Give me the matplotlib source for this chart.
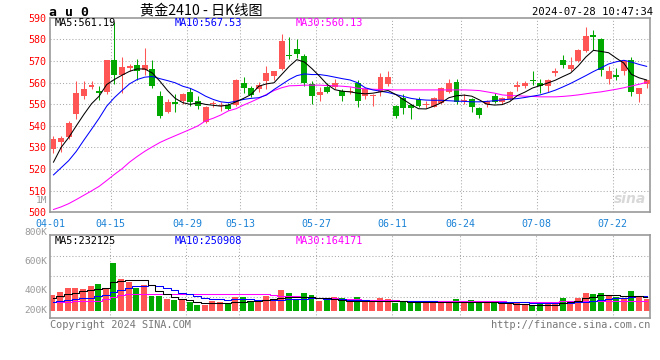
import matplotlib

matplotlib.use("Agg")

import matplotlib.pyplot as plt
import numpy as np

# daily candles, index 0 = 04-01 ... 78 = 07-26
opens = [529.5, 532.5, 534.7, 545.3, 553.7, 558.0, 556.3, 555.8, 570.5, 563.7,
         566.7, 568.3, 566.0, 566.4, 554.0, 546.4, 551.0, 551.7, 555.7, 551.7,
         541.8, 550.0, 549.0, 549.6, 549.6, 559.9, 557.3, 556.8, 560.9, 562.9,
         566.4, 572.8, 575.6, 572.4, 559.4, 554.2, 557.9, 558.0, 556.0, 555.6,
         559.9, 553.7, 553.8, 555.7, 559.5, 549.2, 553.0, 549.6, 552.2, 549.6,
         548.8, 550.7, 555.6, 560.3, 551.6, 552.2, 548.4, 549.9, 553.7, 551.1,
         552.2, 558.0, 558.3, 561.4, 559.9, 558.3, 564.4, 570.6, 566.4, 569.8,
         574.7, 582.0, 580.2, 561.8, 563.7, 565.2, 570.6, 554.8, 559.4]
closes = [534.0, 534.5, 541.4, 555.0, 556.8, 559.0, 555.0, 570.5, 563.7, 567.0,
          567.8, 565.2, 568.3, 558.3, 544.6, 551.1, 550.2, 554.5, 551.0, 549.1,
          548.6, 550.6, 549.6, 547.6, 561.4, 557.3, 554.2, 559.1, 564.4, 565.2,
          579.0, 572.1, 573.2, 559.9, 554.0, 555.7, 555.6, 559.9, 554.0, 556.3,
          551.4, 556.8, 554.3, 562.4, 562.4, 544.6, 548.1, 548.1, 549.2, 550.2,
          552.7, 557.3, 559.9, 551.1, 552.0, 548.7, 545.0, 551.7, 551.1, 552.7,
          555.7, 558.8, 559.7, 560.6, 558.3, 561.4, 565.5, 568.3, 568.3, 575.1,
          581.6, 581.3, 565.7, 565.5, 562.5, 569.8, 555.7, 557.3, 561.1]
highs = [535.5, 535.5, 542.0, 560.5, 560.5, 560.6, 558.6, 570.6, 588.0, 571.6,
         568.7, 570.9, 575.8, 570.6, 556.3, 552.2, 554.5, 555.3, 557.3, 553.7,
         549.0, 551.7, 551.0, 550.4, 561.8, 562.5, 558.3, 560.2, 567.5, 565.5,
         582.5, 580.9, 580.0, 573.2, 560.6, 558.0, 560.0, 561.8, 556.8, 557.9,
         561.0, 557.3, 554.5, 564.4, 565.5, 549.5, 554.5, 550.2, 553.4, 551.7,
         553.3, 557.9, 561.8, 561.8, 554.5, 552.7, 548.8, 552.1, 555.3, 553.3,
         556.3, 560.6, 560.6, 565.5, 561.8, 561.8, 566.7, 572.9, 571.6, 575.3,
         585.5, 584.3, 580.8, 567.5, 566.7, 570.3, 571.6, 557.5, 561.3]
lows = [527.5, 528.0, 534.0, 543.0, 552.5, 556.8, 552.0, 554.7, 559.5, 555.0,
        565.5, 561.0, 563.5, 557.5, 543.6, 545.8, 546.6, 550.0, 549.0, 548.0,
        541.5, 548.7, 547.0, 547.2, 549.0, 555.0, 553.3, 555.7, 557.0, 561.0,
        566.0, 570.9, 571.3, 558.6, 550.2, 551.7, 555.0, 556.8, 551.4, 554.5,
        548.7, 552.2, 549.2, 554.0, 558.3, 543.6, 545.3, 543.0, 548.8, 548.4,
        548.5, 550.0, 555.0, 549.9, 550.0, 546.4, 543.6, 548.7, 550.5, 549.9,
        551.8, 556.3, 557.3, 558.8, 555.3, 555.7, 562.9, 566.7, 565.5, 569.5,
        574.0, 575.1, 563.2, 559.5, 561.4, 563.7, 554.0, 551.0, 557.3]

ma5 = [523.2, 530.0, 534.6, 540.0, 545.3, 550.2, 553.7, 559.1, 561.4, 563.4,
       565.2, 566.3, 566.3, 564.4, 560.6, 556.3, 552.7, 550.7, 549.9, 550.7,
       549.9, 549.5, 549.1, 549.6, 551.1, 552.7, 554.5, 558.3, 559.4, 559.9,
       563.7, 567.5, 570.6, 569.5, 566.4, 562.9, 559.1, 556.7, 556.0, 555.7,
       555.1, 554.8, 555.1, 555.7, 556.3, 554.5, 552.2, 549.9, 547.9, 547.8,
       549.1, 550.7, 553.0, 553.9, 554.2, 553.7, 552.0, 550.0, 549.6, 549.8,
       551.2, 554.0, 555.6, 557.5, 558.6, 559.8, 561.1, 562.8, 564.4, 567.7,
       571.8, 574.9, 574.4, 573.8, 571.3, 569.0, 563.8, 562.2, 561.2]
ma10 = [517.3, 520.6, 523.9, 528.2, 533.4, 538.4, 543.5, 549.1, 553.0, 556.3,
        559.4, 561.4, 562.5, 562.8, 561.8, 560.9, 559.9, 558.3, 557.3, 555.7,
        553.7, 552.2, 551.1, 550.7, 551.4, 552.2, 552.7, 553.0, 554.2, 556.8,
        559.1, 561.4, 563.2, 564.0, 563.7, 563.7, 563.2, 562.5, 561.8, 561.2,
        559.9, 557.6, 556.6, 556.0, 555.4, 554.5, 553.6, 552.7, 552.2, 551.9,
        551.8, 551.8, 551.6, 551.4, 551.3, 551.1, 551.1, 551.3, 551.6, 552.0,
        552.3, 552.6, 553.1, 553.7, 554.3, 555.3, 556.5, 558.0, 559.6, 561.4,
        563.2, 565.1, 566.8, 568.6, 569.6, 570.3, 569.5, 568.4, 567.5]
ma30 = [501.3, 502.5, 504.0, 505.9, 507.9, 509.9, 512.0, 514.7, 517.5, 520.1,
        523.2, 525.8, 528.2, 530.3, 532.3, 533.9, 535.4, 536.9, 538.4, 540.0,
        542.3, 543.5, 545.0, 546.9, 547.9, 549.6, 551.1, 552.7, 554.5, 556.3,
        557.6, 558.5, 558.6, 558.8, 558.8, 558.8, 558.6, 558.5, 558.3, 558.0,
        557.4, 557.1, 556.9, 556.8, 556.7, 556.6, 556.6, 556.6, 556.6, 556.6,
        556.6, 556.6, 556.6, 556.6, 556.6, 556.5, 556.3, 555.7, 555.1, 554.3,
        554.0, 553.9, 553.7, 553.6, 553.4, 553.4, 553.4, 553.6, 553.9, 554.3,
        554.8, 555.3, 555.7, 556.3, 556.9, 557.6, 558.4, 559.2, 560.1]

# volume in thousands of lots
volume = [261, 310, 375, 375, 353, 407, 440, 353, 787, 521,
          472, 375, 429, 244, 244, 195, 179, 195, 147, 98,
          98, 157, 147, 125, 228, 228, 147, 157, 250, 157,
          342, 299, 190, 299, 261, 163, 190, 233, 206, 163,
          233, 168, 168, 212, 195, 136, 152, 157, 136, 152,
          125, 152, 152, 195, 141, 179, 136, 136, 136, 114,
          136, 152, 114, 98, 114, 114, 125, 212, 163, 212,
          300, 270, 300, 250, 225, 200, 330, 250, 200]
vma5 = [206, 240, 270, 299, 320, 340, 365, 380, 470, 490,
        500, 505, 505, 430, 330, 270, 230, 200, 175, 150,
        135, 130, 125, 128, 140, 150, 155, 160, 180, 195,
        210, 232, 235, 235, 228, 215, 215, 200, 180, 170,
        165, 160, 160, 160, 160, 155, 155, 150, 150, 150,
        150, 150, 150, 150, 150, 150, 150, 150, 145, 135,
        125, 115, 110, 105, 100, 100, 105, 125, 145, 170,
        205, 235, 255, 265, 260, 250, 245, 238, 232]
vma10 = [152, 168, 180, 195, 205, 220, 245, 260, 315, 350,
         380, 400, 415, 420, 410, 380, 345, 300, 270, 240,
         215, 200, 190, 185, 190, 190, 190, 180, 180, 180,
         185, 195, 195, 200, 205, 205, 200, 195, 190, 185,
         180, 175, 170, 168, 165, 162, 160, 158, 156, 155,
         155, 153, 152, 152, 150, 150, 150, 150, 148, 146,
         144, 142, 140, 138, 136, 134, 132, 132, 135, 140,
         150, 165, 180, 195, 205, 215, 230, 242, 251]
vma30 = [152, 152, 152, 168, 168, 168, 168, 200, 233, 255,
         271, 271, 271, 271, 271, 271, 271, 271, 271, 271,
         271, 271, 271, 271, 271, 271, 271, 271, 271, 260,
         250, 245, 240, 235, 228, 220, 215, 206, 200, 195,
         190, 185, 180, 178, 175, 172, 170, 168, 166, 165,
         165, 163, 162, 160, 160, 160, 160, 158, 156, 155,
         154, 153, 152, 152, 152, 153, 154, 155, 156, 158,
         160, 161, 162, 162, 163, 163, 164, 164, 164]

tick_days = [0, 8, 18, 25, 35, 45, 54, 64, 74]
tick_labels = ["04-01", "04-15", "04-29", "05-13", "05-27", "06-11", "06-24", "07-08", "07-22"]

RED = "#FF5555"
GREEN = "#00A800"
FRAME = "#999999"
GRID = "#AAAAAA"
MONO = "DejaVu Sans Mono"
LW = 0.75

W, H = 660, 360


def fx(x):
    return x / W


def fy(y):
    return 1 - y / H


fig = plt.figure(figsize=(6.6, 3.6), dpi=100)
fig.patch.set_facecolor("white")

ax = fig.add_axes([fx(50), fy(212.3), 600 / W, (212.3 - 17.7) / H])
vax = fig.add_axes([fx(50), fy(318), 600 / W, (318 - 234.7) / H])

x = np.arange(len(opens))
xmin, xmax = (50 - 52.5) / 7.617, (650 - 52.5) / 7.617
grid_x = [d - 0.46 for d in tick_days]

o = np.array(opens)
c = np.array(closes)
up = c >= o
colors = [RED if u else GREEN for u in up]
body_low = np.minimum(o, c)
body_h = np.maximum(np.abs(c - o), 0.45)

for a in (ax, vax):
    a.set_xlim(xmin, xmax)
    for s in a.spines.values():
        s.set_color(FRAME)
        s.set_linewidth(1.2)
    a.tick_params(length=0)
    for gx in grid_x[1:]:
        a.axvline(gx, color=GRID, lw=LW, ls=(0, (1, 2)), zorder=0)

# price panel
ax.set_ylim(500, 590)
levels = list(range(500, 591, 10))
for lv in levels[1:-1]:
    ax.axhline(lv, color=GRID, lw=LW, ls=(0, (1, 2)), zorder=0)
ax.vlines(x, lows, highs, colors=colors, lw=LW, zorder=2)
ax.bar(x, body_h, bottom=body_low, width=0.78, color=colors, lw=0, zorder=3)
ax.plot(x, ma30, color="#FF00FF", lw=LW, zorder=4)
ax.plot(x, ma10, color="#0000FF", lw=LW, zorder=4)
ax.plot(x, ma5, color="#000000", lw=LW, zorder=4)
ax.set_yticks(levels)
ax.set_yticklabels([str(v) for v in levels], color="red", family=MONO, fontsize=7.2)
ax.tick_params(axis="y", pad=2.5)
ax.set_xticks(grid_x)
ax.set_xticklabels(tick_labels, color="#1A82D6", family=MONO, fontsize=7.2)
ax.tick_params(axis="x", pad=4.5)

# volume panel
vbottom, vtop = -114, 1244
vax.set_ylim(vbottom, vtop)
for k in (1, 2, 3):
    vax.axhline(vbottom + k * (vtop - vbottom) / 4, color=GRID, lw=LW, ls=(0, (1, 2)), zorder=0)
vax.bar(x, volume, width=0.78, color=colors, lw=0, zorder=2)
vax.plot(x, vma30, color="#FF00FF", lw=LW, drawstyle="steps-mid", zorder=3)
vax.plot(x, vma10, color="#0000FF", lw=LW, drawstyle="steps-mid", zorder=3)
vax.plot(x, vma5, color="#000000", lw=LW, drawstyle="steps-mid", zorder=3)
vax.set_yticks([])
vax.set_xticks([])

# header
fig.text(fx(49), fy(12), "a u 0", family=MONO, fontsize=9.5, weight="bold", va="center", ha="left")
fig.text(fx(140), fy(11), "黄金2410 - 日K线图", family=["Noto Sans CJK SC", "DejaVu Sans"],
         fontsize=10.2, va="center", ha="left")
fig.text(fx(653), fy(12), "2024-07-28 10:47:34", family=MONO, fontsize=7.6, va="center", ha="right")

ma_text = [("MA5:561.19", "#000000", 55), ("MA10:567.53", "#0000FF", 175), ("MA30:560.13", "#FF00FF", 296)]
for txt, col, px in ma_text:
    fig.text(fx(px), fy(23.5), txt, color=col, family=MONO, fontsize=7.4, va="center", ha="left")
vma_text = [("MA5:232125", "#000000", 55), ("MA10:250908", "#0000FF", 175), ("MA30:164171", "#FF00FF", 296)]
for txt, col, px in vma_text:
    fig.text(fx(px), fy(240.5), txt, color=col, family=MONO, fontsize=7.4, va="center", ha="left")

# volume scale labels
for txt, py in [("1M", 200.5), ("800K", 232.5), ("600K", 261.5), ("400K", 290.5), ("200K", 310.5)]:
    fig.text(fx(47.5), fy(py), txt, color="#999999", family=MONO, fontsize=6.8, va="center", ha="right")

# footer
fig.text(fx(50), fy(324.5), "Copyright 2024 SINA.COM", color="#777777", family=MONO, fontsize=7.4,
         va="center", ha="left")
fig.text(fx(650), fy(324.5), "http://finance.sina.com.cn", color="#777777", family=MONO, fontsize=7.4,
         va="center", ha="right")

# watermark
fig.text(fx(630), fy(199), "sina", color="#D8D8D8", fontsize=10, style="italic", weight="bold",
         va="center", ha="center")

fig.savefig("out.png", dpi=100, facecolor="white")
